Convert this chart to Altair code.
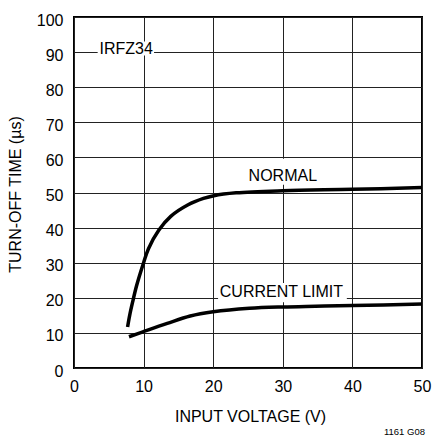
import altair as alt
import pandas as pd

# NORMAL curve
normal_v = [7.7, 8.0, 8.4, 9.0, 10.0, 10.7, 12.2, 13.9, 16.4, 18.6, 20.1, 23.3, 30.0, 40.0, 50.0]
normal_t = [11.7, 15.0, 18.6, 23.5, 30.0, 34.0, 39.3, 43.2, 46.5, 48.3, 49.1, 49.9, 50.5, 50.9, 51.4]

# CURRENT LIMIT curve
limit_v = [7.9, 9.9, 13.4, 16.7, 20.0, 25.2, 30.0, 34.7, 40.0, 50.0]
limit_t = [8.9, 10.3, 12.7, 14.8, 16.0, 17.0, 17.4, 17.6, 17.8, 18.2]

# annotations
label_text = ["IRFZ34", "NORMAL", "CURRENT LIMIT"]
label_x = [7.5, 30.0, 29.8]
label_y = [91.0, 54.8, 21.7]
box_x1 = [3.4, 24.8, 20.7]
box_x2 = [11.5, 35.2, 39.2]
box_y1 = [89.0, 52.2, 18.7]
box_y2 = [93.0, 59.6, 24.2]

x_ticks = [0, 10, 20, 30, 40, 50]
y_ticks = [0, 10, 20, 30, 40, 50, 60, 70, 80, 90, 100]

FONT = "Liberation Sans"
FS = 16

curves = pd.DataFrame(
    {"v": normal_v + limit_v,
     "t": normal_t + limit_t,
     "series": ["NORMAL"] * len(normal_v) + ["CURRENT LIMIT"] * len(limit_v)}
)
labels = pd.DataFrame({"text": label_text, "x": label_x, "y": label_y,
                       "x1": box_x1, "x2": box_x2, "y1": box_y1, "y2": box_y2})

xscale = alt.Scale(domain=[0, 50], nice=False, zero=False)
yscale = alt.Scale(domain=[0, 100], nice=False)

xaxis = alt.Axis(values=x_ticks, title="INPUT VOLTAGE (V)", grid=True, ticks=False,
                 domain=False, labelPadding=10, titleX=176, titleY=53,
                 titleBaseline="alphabetic", labelOverlap=False, labelFlush=False)
yaxis = alt.Axis(values=y_ticks, title="TURN-OFF TIME (µs)", grid=True, ticks=False,
                 domain=False, labelPadding=11, labelOffset=3, titleX=-51, titleY=177,
                 titleBaseline="bottom", labelOverlap=False, labelFlush=False)

base = alt.Chart(labels)

boxes = base.mark_rect(fill="white").encode(
    x=alt.X("x1:Q", scale=xscale, axis=xaxis),
    x2="x2:Q",
    y=alt.Y("y1:Q", scale=yscale, axis=yaxis),
    y2="y2:Q",
)

lines = alt.Chart(curves).mark_line(color="black", strokeWidth=3.5, interpolate="catmull-rom").encode(
    x=alt.X("v:Q", scale=xscale, axis=xaxis),
    y=alt.Y("t:Q", scale=yscale, axis=yaxis),
    detail="series:N",
    order="v:Q",
)

texts = base.mark_text(font=FONT, fontSize=FS, color="black", baseline="middle", align="center").encode(
    x=alt.X("x:Q", scale=xscale, axis=xaxis),
    y=alt.Y("y:Q", scale=yscale, axis=yaxis),
    text="text:N",
)

chart = alt.layer(boxes, lines, texts).properties(
    width=348, height=351,
    autosize=alt.AutoSizeParams(type="none"),
    padding={"left": 66, "top": 9, "right": 10, "bottom": 70},
    title=alt.Title("1161 G08", orient="bottom", anchor="end", frame="group", fontSize=9.5,
                    font=FONT, fontWeight="normal", color="black", offset=3, dx=3),
).configure_view(
    stroke="black", strokeWidth=2
).configure_axis(
    gridColor="#222222", gridWidth=1, gridOpacity=1,
    labelFont=FONT, labelFontSize=FS, labelColor="black",
    titleFont=FONT, titleFontSize=FS, titleColor="black", titleFontWeight="normal",
)

chart.save("out.html", embed_options={"renderer": "svg", "actions": False})
